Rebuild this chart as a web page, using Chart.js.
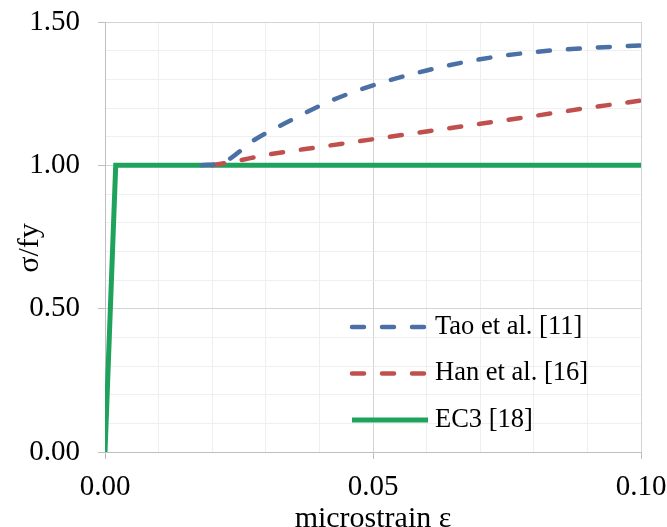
<!DOCTYPE html>
<html>
<head>
<meta charset="utf-8">
<script src="https://cdn.jsdelivr.net/npm/chart.js@4.4.0/dist/chart.umd.min.js"></script>
<style>
    body { margin: 0; background: #ffffff; }
</style>
</head>
<body>
<canvas id="stressStrainChart" width="667" height="527"></canvas>
<script>
// Tao et al. [11]
const taoStrain = [0.018, 0.022, 0.028, 0.035, 0.042, 0.05, 0.06, 0.07, 0.08, 0.09, 0.1];
const taoStress = [1.0, 1.01, 1.09, 1.16, 1.224, 1.279, 1.331, 1.37, 1.395, 1.409, 1.418];

// Han et al. [16]
const hanStrain = [0.02, 0.025, 0.03, 0.04, 0.05, 0.06, 0.07, 0.08, 0.09, 0.1];
const hanStress = [1.0, 1.017, 1.036, 1.064, 1.091, 1.118, 1.145, 1.172, 1.2, 1.226];

// EC3 [18]
const ec3Strain = [0, 0.002, 0.1];
const ec3Stress = [0, 1.0, 1.0];

const seriesLabels = ['Tao et al. [11]', 'Han et al. [16]', 'EC3 [18]'];
const yTitle = 'σ/fy';
const xTitle = 'microstrain ε';

const xMajorTicks = [0, 0.05, 0.1];
const yMajorTicks = [0, 0.5, 1.0, 1.5];

function toPoints(xs, ys) {
    return xs.map((x, i) => ({ x: x, y: ys[i] }));
}

function isMajor(value, majors) {
    return majors.some((m) => Math.abs(m - value) < 1e-9);
}

// keep tick label overflow out of the layout, the padding below handles it
function noLabelPadding(scale) {
    scale.paddingTop = 0;
    scale.paddingBottom = 0;
    scale.paddingLeft = 0;
    scale.paddingRight = 0;
}

// legend inside the plot (lower right) + rotated y title a bit below centre
const extras = {
    id: 'extras',
    afterDraw(chart) {
        const ctx = chart.ctx;
        const area = chart.chartArea;
        const x0 = area.left + 247;
        let y = area.top + 305;
        ctx.save();
        ctx.font = '26.5px "Liberation Serif"';
        ctx.textBaseline = 'middle';
        ctx.fillStyle = '#000000';
        chart.data.datasets.forEach((ds) => {
            ctx.beginPath();
            ctx.setLineDash(ds.borderDash || []);
            ctx.lineWidth = ds.borderWidth;
            ctx.strokeStyle = ds.borderColor;
            ctx.lineCap = ds.borderCapStyle || 'butt';
            ctx.moveTo(x0, y);
            ctx.lineTo(x0 + 76, y);
            ctx.stroke();
            ctx.setLineDash([]);
            ctx.fillText(ds.label, x0 + 83, y);
            y += 46.5;
        });

        // y axis title
        ctx.font = '30px "Liberation Serif"';
        ctx.textAlign = 'center';
        ctx.translate(30, (area.top + area.bottom) / 2 + 11);
        ctx.rotate(-Math.PI / 2);
        ctx.fillText(yTitle, 0, 0);
        ctx.restore();
    },
};

Chart.defaults.color = '#000000';
Chart.defaults.font.family = '"Liberation Serif", "Times New Roman", serif';

const ctx = document.getElementById('stressStrainChart');
const config = {
    type: 'scatter',
    data: {
        datasets: [
            {
                label: seriesLabels[0],
                data: toPoints(taoStrain, taoStress),
                showLine: true,
                borderColor: '#4a70a6',
                borderWidth: 4.5,
                borderDash: [12, 18],
                borderCapStyle: 'round',
                cubicInterpolationMode: 'monotone',
                pointRadius: 0,
            },
            {
                label: seriesLabels[1],
                data: toPoints(hanStrain, hanStress),
                showLine: true,
                borderColor: '#c0504d',
                borderWidth: 4.5,
                borderDash: [12, 18],
                borderCapStyle: 'round',
                cubicInterpolationMode: 'monotone',
                pointRadius: 0,
            },
            {
                label: seriesLabels[2],
                data: toPoints(ec3Strain, ec3Stress),
                showLine: true,
                borderColor: '#1fa35c',
                borderWidth: 5,
                tension: 0,
                pointRadius: 0,
            },
        ],
    },
    options: {
        responsive: false,
        animation: false,
        layout: {
            padding: { top: 22, right: 26, left: 0, bottom: 0 },
        },
        plugins: {
            legend: { display: false },
            tooltip: { enabled: false },
        },
        scales: {
            x: {
                type: 'linear',
                min: 0,
                max: 0.1,
                afterFit: (scale) => {
                    scale.height = 75;
                    noLabelPadding(scale);
                },
                border: { color: '#bfbfbf', width: 1 },
                grid: {
                    color: (c) => (isMajor(c.tick.value, xMajorTicks) ? '#d4d4d4' : '#efefef'),
                    tickColor: (c) => (isMajor(c.tick.value, xMajorTicks) ? '#bfbfbf' : 'rgba(0,0,0,0)'),
                    tickLength: 7,
                },
                ticks: {
                    stepSize: 0.01,
                    autoSkip: false,
                    maxRotation: 0,
                    padding: 11,
                    font: { size: 29 },
                    callback: (v) => (isMajor(v, xMajorTicks) ? v.toFixed(2) : ''),
                },
                title: {
                    display: true,
                    text: xTitle,
                    font: { size: 30 },
                    padding: { top: 0, bottom: -10 },
                },
            },
            y: {
                type: 'linear',
                min: 0,
                max: 1.5,
                afterFit: (scale) => {
                    scale.width = 105;
                    noLabelPadding(scale);
                },
                border: { color: '#bfbfbf', width: 1 },
                grid: {
                    color: (c) => (isMajor(c.tick.value, yMajorTicks) ? '#d4d4d4' : '#efefef'),
                    tickColor: (c) => (isMajor(c.tick.value, yMajorTicks) ? '#bfbfbf' : 'rgba(0,0,0,0)'),
                    tickLength: 7,
                },
                ticks: {
                    stepSize: 0.1,
                    autoSkip: false,
                    padding: 18,
                    font: { size: 29 },
                    callback: (v) => (isMajor(v, yMajorTicks) ? v.toFixed(2) : ''),
                },
                title: { display: false },
            },
        },
    },
    plugins: [extras],
};

let stressStrainChart = new Chart(ctx, config);
</script>
</body>
</html>
